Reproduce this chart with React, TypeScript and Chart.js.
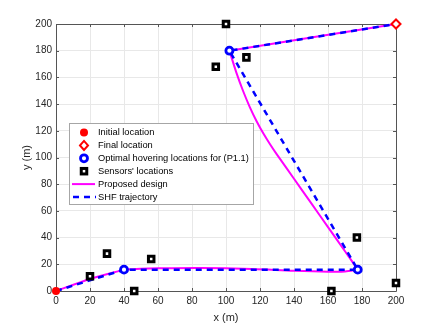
import React, { useEffect, useRef } from 'react';
import { Chart, registerables } from 'chart.js';

Chart.register(...registerables);

const xTicks = [0, 20, 40, 60, 80, 100, 120, 140, 160, 180, 200];
const yTicks = [0, 20, 40, 60, 80, 100, 120, 140, 160, 180, 200];

const initialX = [0];
const initialY = [0];
const finalX = [200];
const finalY = [200];
const hoverX = [40, 177.5, 102];
const hoverY = [16, 16, 180];
const sensorX = [20, 30, 46, 56, 94, 100, 112, 162, 177, 200];
const sensorY = [11, 28, 0, 24, 168, 200, 175, 0, 40, 6];

const shfX = [0, 40, 177.5, 102, 200];
const shfY = [0, 16, 16, 180, 200];

const propSeg1X = [0, 20, 40];
const propSeg1Y = [0, 9, 16];
const propSeg2X = [40, 50, 60, 85, 115, 140, 160, 170, 177.5];
const propSeg2Y = [16, 16.7, 17, 17.2, 16.5, 15.2, 14.5, 14.6, 16];
const propSeg3X = [177.5, 170, 160, 150, 140, 130, 126, 122, 118, 114, 110, 106, 102];
const propSeg3Y = [16, 29.8, 47.9, 66, 84.1, 102.2, 109.8, 118, 127.2, 137.8, 150, 164, 180];
const propSeg4X = [102, 200];
const propSeg4Y = [180, 200];

const legendLabels = [
  'Initial location',
  'Final location',
  'Optimal hovering locations for (P1.1)',
  "Sensors' locations",
  'Proposed design',
  'SHF trajectory',
];

const xTitle = 'x (m)';
const yTitle = 'y (m)';

const FONT = '"Liberation Sans", Arial, Helvetica, sans-serif';
const BLUE = '#0000ff';
const MAGENTA = '#ff00ff';
const RED = '#ff0000';

const pts = (xs: number[], ys: number[]) => xs.map((x, i) => ({ x, y: ys[i] }));

const framePlugin = {
  id: 'frame',
  beforeDatasetsDraw(chart: any) {
    const { ctx, chartArea: a, scales } = chart;
    ctx.save();
    ctx.strokeStyle = '#555555';
    ctx.lineWidth = 1;
    ctx.beginPath();
    ctx.rect(Math.round(a.left) + 0.5, Math.round(a.top) + 0.5, Math.round(a.right - a.left), Math.round(a.bottom - a.top));
    ctx.stroke();
    const tl = 3;
    ctx.beginPath();
    xTicks.forEach((v) => {
      const px = Math.round(scales.x.getPixelForValue(v)) + 0.5;
      ctx.moveTo(px, a.bottom);
      ctx.lineTo(px, a.bottom - tl);
      ctx.moveTo(px, a.top);
      ctx.lineTo(px, a.top + tl);
    });
    yTicks.forEach((v) => {
      const py = Math.round(scales.y.getPixelForValue(v)) + 0.5;
      ctx.moveTo(a.left, py);
      ctx.lineTo(a.left + tl, py);
      ctx.moveTo(a.right, py);
      ctx.lineTo(a.right - tl, py);
    });
    ctx.stroke();
    ctx.fillStyle = '#262626';
    ctx.font = `11px ${FONT}`;
    ctx.textAlign = 'center';
    ctx.textBaseline = 'middle';
    ctx.fillText(xTitle, (a.left + a.right) / 2, 318);
    ctx.translate(27, (a.top + a.bottom) / 2);
    ctx.rotate(-Math.PI / 2);
    ctx.fillText(yTitle, 0, 0);
    ctx.restore();
  },
  afterDraw(chart: any) {
    const { ctx } = chart;
    ctx.save();
    const bx = 69, by = 123, bw = 184, bh = 81;
    ctx.fillStyle = '#ffffff';
    ctx.fillRect(bx, by, bw, bh);
    ctx.strokeStyle = '#a6a6a6';
    ctx.lineWidth = 1;
    ctx.strokeRect(bx + 0.5, by + 0.5, bw, bh);
    const rows = [132.5, 145.4, 158.3, 171.2, 184.1, 197];
    const mx = 84;
    ctx.fillStyle = RED;
    ctx.beginPath();
    ctx.arc(mx, rows[0], 4, 0, Math.PI * 2);
    ctx.fill();
    ctx.strokeStyle = RED;
    ctx.lineWidth = 2;
    ctx.fillStyle = '#fff';
    ctx.beginPath();
    ctx.moveTo(mx - 4, rows[1]);
    ctx.lineTo(mx, rows[1] - 4.5);
    ctx.lineTo(mx + 4, rows[1]);
    ctx.lineTo(mx, rows[1] + 4.5);
    ctx.closePath();
    ctx.fill();
    ctx.stroke();
    ctx.strokeStyle = BLUE;
    ctx.lineWidth = 2.8;
    ctx.beginPath();
    ctx.arc(mx, rows[2], 3.5, 0, Math.PI * 2);
    ctx.fill();
    ctx.stroke();
    ctx.strokeStyle = '#000';
    ctx.lineWidth = 3;
    ctx.fillStyle = '#fff';
    ctx.fillRect(mx - 2.75, rows[3] - 2.75, 5.5, 5.5);
    ctx.strokeRect(mx - 2.75, rows[3] - 2.75, 5.5, 5.5);
    ctx.strokeStyle = MAGENTA;
    ctx.lineWidth = 2;
    ctx.beginPath();
    ctx.moveTo(72, rows[4]);
    ctx.lineTo(95, rows[4]);
    ctx.stroke();
    ctx.strokeStyle = BLUE;
    ctx.lineWidth = 2.5;
    ctx.setLineDash([6, 5]);
    ctx.beginPath();
    ctx.moveTo(73, rows[5]);
    ctx.lineTo(96, rows[5]);
    ctx.stroke();
    ctx.setLineDash([]);
    ctx.fillStyle = '#000';
    ctx.font = `9.3px ${FONT}`;
    ctx.textAlign = 'left';
    ctx.textBaseline = 'middle';
    legendLabels.forEach((t, i) => ctx.fillText(t, 98, rows[i]));
    ctx.restore();
  },
};

export default function App() {
  const ref = useRef<HTMLCanvasElement>(null);
  useEffect(() => {
    if (!ref.current) return;
    const lineDs = (xs: number[], ys: number[], order: number) => ({
      type: 'line' as const,
      data: pts(xs, ys),
      showLine: true,
      borderColor: MAGENTA,
      backgroundColor: MAGENTA,
      borderWidth: 2,
      pointRadius: 0,
      tension: 0.3,
      fill: false,
      clip: false as any,
      order,
    });
    const chart = new Chart(ref.current, {
      type: 'scatter',
      data: {
        datasets: [
          lineDs(propSeg1X, propSeg1Y, 10),
          lineDs(propSeg2X, propSeg2Y, 10),
          lineDs(propSeg3X, propSeg3Y, 10),
          lineDs(propSeg4X, propSeg4Y, 10),
          {
            type: 'line',
            data: pts(shfX, shfY),
            showLine: true,
            borderColor: BLUE,
            backgroundColor: BLUE,
            borderWidth: 2.5,
            borderDash: [6, 5],
            pointRadius: 0,
            tension: 0,
            fill: false,
            clip: false as any,
            order: 5,
          },
          {
            data: pts(sensorX, sensorY),
            pointStyle: 'rect',
            pointRadius: 3.9,
            borderColor: '#000',
            backgroundColor: '#fff',
            borderWidth: 3,
            clip: false as any,
            order: 3,
          },
          {
            data: pts(hoverX, hoverY),
            pointStyle: 'circle',
            pointRadius: 3.5,
            borderColor: BLUE,
            backgroundColor: '#fff',
            borderWidth: 2.8,
            clip: false as any,
            order: 2,
          },
          {
            data: pts(initialX, initialY),
            pointStyle: 'circle',
            pointRadius: 4,
            borderColor: RED,
            backgroundColor: RED,
            borderWidth: 0,
            clip: false as any,
            order: 1,
          },
          {
            data: pts(finalX, finalY),
            pointStyle: 'rectRot',
            pointRadius: 4.5,
            borderColor: RED,
            backgroundColor: '#fff',
            borderWidth: 2,
            clip: false as any,
            order: 1,
          },
        ] as any,
      },
      options: {
        responsive: false,
        animation: false,
        events: [],
        layout: { padding: { top: 24, right: 40, left: 0, bottom: 0 } },
        plugins: { legend: { display: false }, tooltip: { enabled: false } },
        scales: {
          x: {
            type: 'linear',
            min: 0,
            max: 200,
            afterFit: (s: any) => { s.height = 36; },
            afterBuildTicks: (s: any) => { s.ticks = xTicks.map((v) => ({ value: v })); },
            grid: { color: '#e8e8e8', drawTicks: false },
            border: { display: false },
            ticks: { padding: 4, color: '#262626', font: { family: FONT, size: 10 }, maxRotation: 0, autoSkip: false },
          },
          y: {
            type: 'linear',
            min: 0,
            max: 200,
            afterFit: (s: any) => { s.width = 56; },
            afterBuildTicks: (s: any) => { s.ticks = yTicks.map((v) => ({ value: v })); },
            grid: { color: '#e8e8e8', drawTicks: false },
            border: { display: false },
            ticks: { padding: 4, color: '#262626', font: { family: FONT, size: 10 }, autoSkip: false },
          },
        },
      },
      plugins: [framePlugin],
    });
    return () => chart.destroy();
  }, []);
  return (
    <div style={{ position: 'fixed', left: 0, top: 0, width: 436, height: 327, background: '#fff' }}>
      <canvas ref={ref} width={436} height={327} style={{ width: 436, height: 327 }} />
    </div>
  );
}
